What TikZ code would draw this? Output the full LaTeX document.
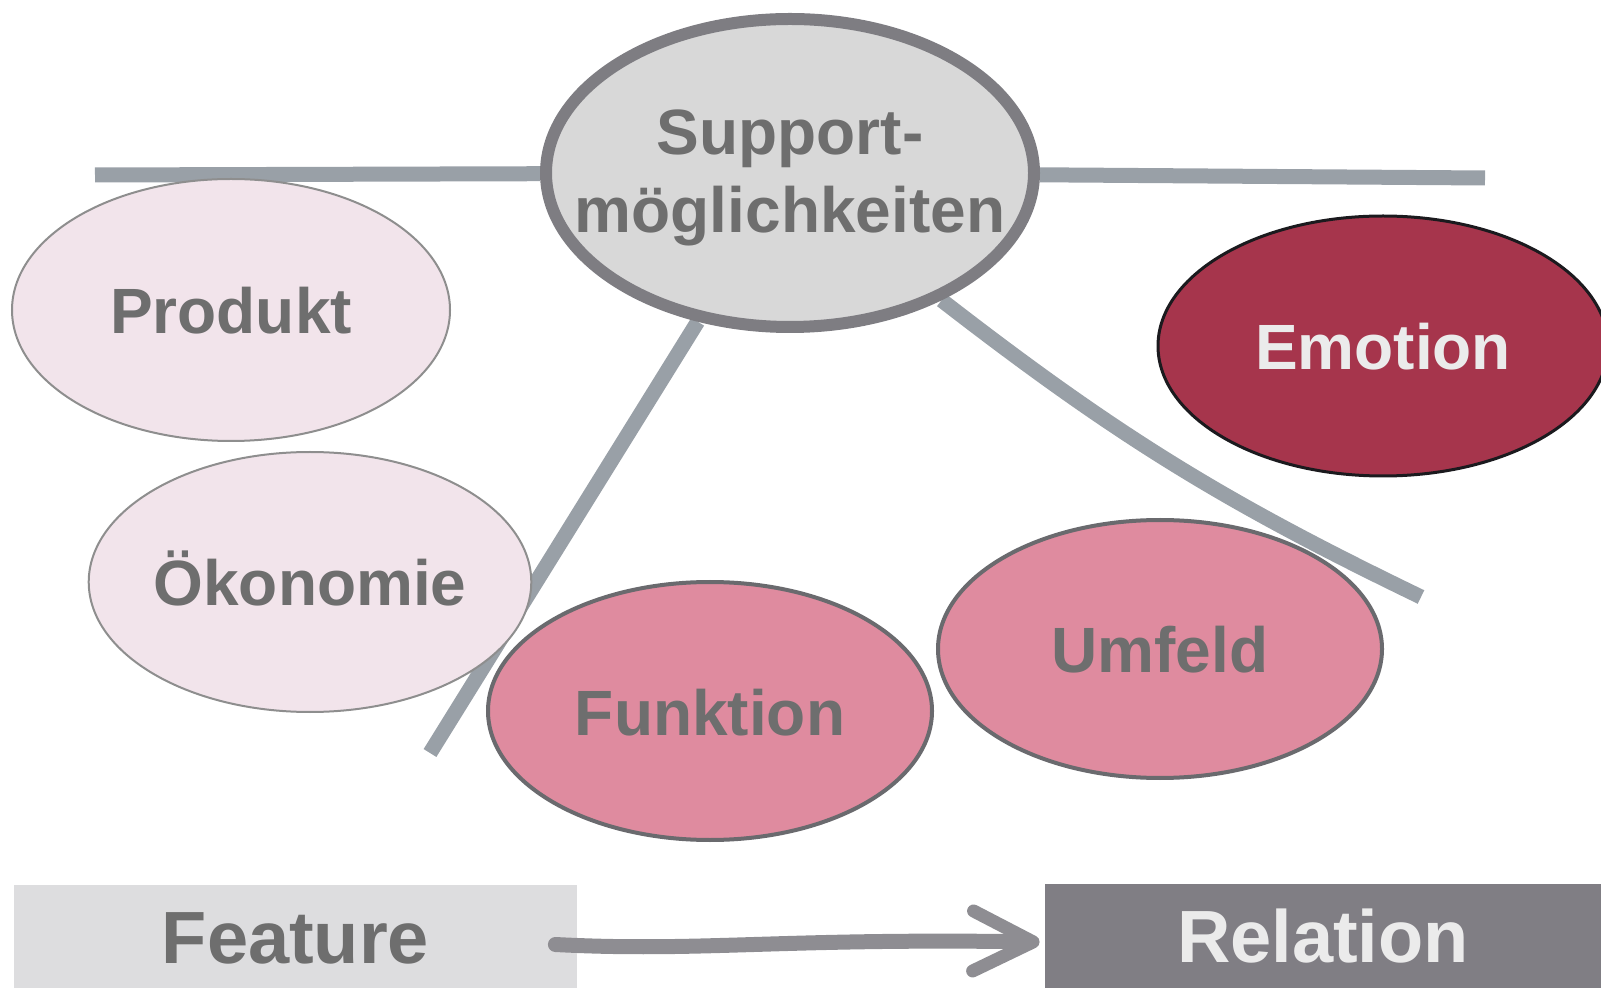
\documentclass[tikz,border=0pt]{standalone}
\usepackage{fontspec}
\setmainfont{Liberation Sans}
\usetikzlibrary{shapes.geometric,backgrounds,arrows.meta}
\definecolor{txtgray}{HTML}{6E6E6E}
\definecolor{lighttxt}{HTML}{EBEBEB}
\definecolor{palefill}{HTML}{F2E4EB}
\definecolor{paleline}{HTML}{8E8E8E}
\definecolor{rosefill}{HTML}{DF8B9F}
\definecolor{roseline}{HTML}{6A6A6E}
\definecolor{emofill}{HTML}{A6354C}
\definecolor{emoline}{HTML}{1B1A1E}
\definecolor{suppfill}{HTML}{D8D8D8}
\definecolor{suppline}{HTML}{7E7D82}
\definecolor{conncol}{HTML}{99A0A7}
\definecolor{featfill}{HTML}{DDDDDF}
\definecolor{relfill}{HTML}{807E84}
\definecolor{arrowcol}{HTML}{8E8D92}

\begin{document}
\begin{tikzpicture}[x=0.5pt,y=-0.5pt,
  bubble/.style={ellipse,inner sep=0pt,text=txtgray,
    font=\bfseries\fontsize{32}{39}\selectfont},
  oneline/.style={text height=24pt,text depth=0pt},
  pale/.style={bubble,oneline,fill=palefill,draw=paleline,line width=1pt},
  rose/.style={bubble,oneline,fill=rosefill,draw=roseline,line width=2pt},
  conn/.style={draw=conncol,line width=7.5pt},
  tag/.style={rectangle,inner sep=0pt,text height=26.5pt,text depth=0pt,
    font=\bfseries\fontsize{37}{44}\selectfont},
  flow/.style={draw=arrowcol,line width=7.5pt,line cap=round,
    -{Straight Barb[length=30pt,width=30pt,line width=6.5pt,round]}}]
\useasboundingbox (0,0) rectangle (1601,988);

% bubbles
\node[bubble,fill=suppfill,draw=suppline,line width=6pt,align=center,
  minimum width=244pt,minimum height=154pt] (supp) at (790,173)
  {\makebox[0pt]{\rule{0pt}{27pt}Support-}\\\makebox[0pt]{möglichkeiten}};
\node[pale,minimum width=219pt,minimum height=131pt] (prod) at (231,310) {Produkt};
\node[pale,minimum width=217pt,minimum height=130pt] (oeko) at (310,582) {Ökonomie};
\node[rose,minimum width=222pt,minimum height=129pt] (funk) at (710,711) {Funktion};
\node[rose,minimum width=222pt,minimum height=129pt] (umf) at (1160,649) {Umfeld};
\node[bubble,oneline,fill=emofill,draw=emoline,line width=1.5pt,text=lighttxt,
  minimum width=225pt,minimum height=130pt] (emo) at (1383,346) {Emotion};

\coordinate (hl) at (95,175);
\coordinate (hr) at (1485,178);
\coordinate (ll) at (430,753);
\coordinate (lr) at (1421,597);

\begin{scope}[on background layer]
\draw[conn] (hl) -- (supp);
\draw[conn] (supp) -- (hr);
\draw[conn] (supp) -- (ll);
\draw[conn] (supp.-40) to[bend right=6] (lr);
\end{scope}

% feature -> relation
\node[tag,fill=featfill,text=txtgray,minimum width=281.5pt,minimum height=51.5pt]
  (feat) at (295.5,936.5) {Feature};
\node[tag,fill=relfill,text=lighttxt,minimum width=278pt,minimum height=52pt]
  (rel) at (1323,936) {Relation};
\draw[flow] ([xshift=-11pt,yshift=-4pt]feat.east)
  .. controls (700,952) and (780,938) .. ([xshift=-2.5pt,yshift=-3pt]rel.west);
\end{tikzpicture}
\end{document}
